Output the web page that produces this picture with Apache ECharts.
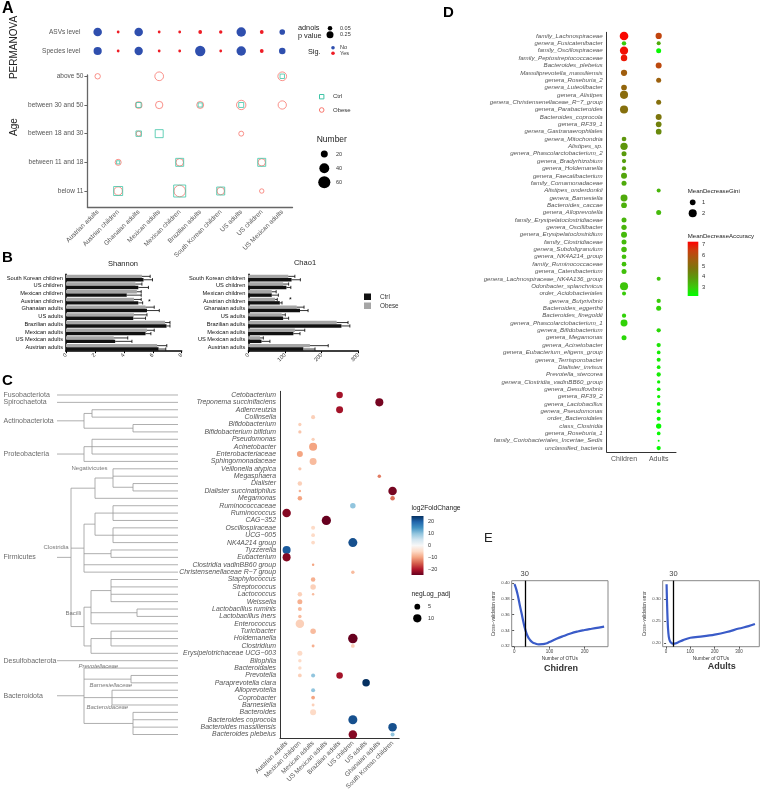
<!DOCTYPE html>
<html><head><meta charset="utf-8">
<script src="https://cdn.jsdelivr.net/npm/echarts@6/dist/echarts.min.js"></script>
<style>html,body{margin:0;padding:0;background:#fff}#c{width:760px;height:793px}</style>
</head><body><div id="c"></div><script>
const FONT = '"Liberation Sans", Arial, sans-serif';

// ---------- Panel A ----------
const A_COLUMNS = ['Austrian adults','Austrian children','Ghanaian adults','Mexican adults','Mexican children','Brazilian adults','South Korean children','US adults','US children','US Mexican adults'];
const A_LEVELS = ['ASVs level','Species level'];
const A_P_ASV = [0.45,0.001,0.45,0.001,0.001,0.02,0.01,0.6,0.02,0.12];
const A_P_SPECIES = [0.4,0.001,0.42,0.001,0.001,0.75,0.001,0.6,0.02,0.2];
const AGE_GROUPS = ['below 11','between 11 and 18','between 18 and 30','between 30 and 50','above 50'];
const AGE_OBESE = [
 ['Austrian adults','above 50',12],['Mexican adults','above 50',31],['US Mexican adults','above 50',31],
 ['Ghanaian adults','between 30 and 50',18],['Mexican adults','between 30 and 50',22],['Brazilian adults','between 30 and 50',20],['US adults','between 30 and 50',36],['US Mexican adults','between 30 and 50',28],
 ['Ghanaian adults','between 18 and 30',10],['US adults','between 18 and 30',10],
 ['Austrian children','between 11 and 18',15],['Mexican children','between 11 and 18',23],['US children','between 11 and 18',22],
 ['Austrian children','below 11',29],['Mexican children','below 11',54],['South Korean children','below 11',23],['US children','below 11',8]];
const AGE_CTRL = [
 ['US Mexican adults','above 50',8],['Ghanaian adults','between 30 and 50',10],['Brazilian adults','between 30 and 50',7],['US adults','between 30 and 50',10],
 ['Ghanaian adults','between 18 and 30',12],['Mexican adults','between 18 and 30',26],
 ['Austrian children','between 11 and 18',4],['Mexican children','between 11 and 18',26],['US children','between 11 and 18',26],
 ['Austrian children','below 11',33],['Mexican children','below 11',59],['South Korean children','below 11',26]];

// ---------- Panel B ----------
const B_GROUPS = ['South Korean children','US children','Mexican children','Austrian children','Ghanaian adults','US adults','Brazilian adults','Mexican adults','US Mexican adults','Austrian adults'];
const SHANNON_OBESE = [5.25,4.8,4.9,4.7,5.5,4.7,6.85,5.6,3.3,6.3];
const SHANNON_OBESE_SE = [0.57,0.45,0.3,0.5,0.6,0.9,0.34,0.5,0.97,0.67];
const SHANNON_CTRL = [5.36,5.0,4.2,5.0,5.6,4.65,6.95,5.5,3.4,6.4];
const SHANNON_CTRL_SE = [0.62,0.7,1.0,0.3,0.85,0.85,0.24,0.37,1.16,0.5];
const CHAO1_OBESE = [109,95,64,73,132,91,241,127,32,168];
const CHAO1_OBESE_SE = [18,15,12,6,20,10,31,27,9,50];
const CHAO1_CTRL = [118,104,64,86,141,95,254,123,36,150];
const CHAO1_CTRL_SE = [24,12,18,6,22,15,23,18,23,32];

// ---------- Panel C ----------
const C_GROUPS = ['Austrian adults','Mexican children','Mexican adults','US Mexican adults','Brazilian adults','US children','US adults','Ghanaian adults','South Korean children'];
const C_TAXA = ['Cetobacterium','Treponema succinifaciens','Adlercreutzia','Collinsella','Bifidobacterium','Bifidobacterium bifidum','Pseudomonas','Acinetobacter','Enterobacteriaceae','Sphingomonadaceae','Veillonella atypica','Megasphaera','Dialister','Dialister succinatiphilus','Megamonas','Ruminococcaceae','Ruminococcus','CAG−352','Oscillospiraceae','UCG−005','NK4A214 group','Tyzzerella','Eubacterium','Clostridia vadinBB60 group','Christensenellaceae R−7 group','Staphylococcus','Streptococcus','Lactococcus','Weissella','Lactobacillus ruminis','Lactobacillus iners','Enterococcus','Turicibacter','Holdemanella','Clostridium','Erysipelotrichaceae UCG−003','Bilophila','Bacteroidales','Prevotella','Paraprevotella clara','Alloprevotella','Coprobacter','Barnesiella','Bacteroides','Bacteroides coprocola','Bacteroides massiliensis','Bacteroides plebeius'];
// [taxon, group, log2FoldChange, negLog_padj]
const C_DOTS = [
 ['Cetobacterium','Brazilian adults',-21,6.3],['Treponema succinifaciens','Ghanaian adults',-24,9.5],['Adlercreutzia','Brazilian adults',-21,7.2],
 ['Collinsella','Mexican adults',-6,2.4],['Bifidobacterium','Mexican children',-6,1.6],['Bifidobacterium bifidum','Mexican children',-7,1.6],
 ['Pseudomonas','Mexican adults',-6,1.6],['Acinetobacter','Mexican adults',-10,9.5],['Enterobacteriaceae','Mexican children',-10,5.3],
 ['Sphingomonadaceae','Mexican adults',-8,7.2],['Veillonella atypica','Mexican children',-7,1.6],['Megasphaera','Ghanaian adults',-13,1.8],
 ['Dialister','Mexican children',-6,3],['Dialister succinatiphilus','Mexican children',-9,0.9],['Dialister succinatiphilus','South Korean children',-24,10.7],
 ['Megamonas','Mexican children',-10,3],['Megamonas','South Korean children',-14,3],['Ruminococcaceae','US children',10,4.5],
 ['Ruminococcus','Austrian adults',-23,10.7],['CAG−352','US Mexican adults',-25,12.8],['Oscillospiraceae','Mexican adults',-5,2.4],
 ['UCG−005','Mexican adults',-5,2.1],['NK4A214 group','Mexican adults',-5,2.1],['NK4A214 group','US children',22,12],
 ['Tyzzerella','Austrian adults',21,9.5],['Eubacterium','Austrian adults',-23,9.5],['Clostridia vadinBB60 group','Mexican adults',-10,0.9],
 ['Christensenellaceae R−7 group','US children',-8,1.8],['Staphylococcus','Mexican adults',-9,3],['Streptococcus','Mexican adults',-6,4.5],
 ['Lactococcus','Mexican children',-6,3],['Lactococcus','Mexican adults',-8,0.9],['Weissella','Mexican children',-9,3.7],
 ['Lactobacillus ruminis','Mexican children',-8,2.4],['Lactobacillus iners','Mexican children',-8,1.8],['Enterococcus','Mexican children',-6,10.7],
 ['Turicibacter','Mexican adults',-8,4.5],['Holdemanella','US children',-25,13.3],['Clostridium','Mexican adults',-9,1.3],['Clostridium','US children',-6,2.1],
 ['Erysipelotrichaceae UCG−003','Mexican children',-5,3.7],['Bilophila','Mexican children',-5,1.8],['Bacteroidales','Mexican children',-5,1.8],
 ['Prevotella','Mexican children',-6,2.1],['Prevotella','Mexican adults',10,2.4],['Prevotella','Brazilian adults',-21,6.3],
 ['Paraprevotella clara','US adults',25,8.3],['Alloprevotella','Mexican adults',10,2.4],['Coprobacter','Mexican adults',-10,2.1],
 ['Barnesiella','Mexican adults',-6,1.3],['Bacteroides','Mexican adults',-5,5.3],['Bacteroides coprocola','US children',22,12],
 ['Bacteroides massiliensis','South Korean children',22,10.7],['Bacteroides plebeius','US children',-23,10.7],['Bacteroides plebeius','South Korean children',10,2.4]];
// tree: leaves are row numbers (1 = first taxon), nodes {x: depth, c: children}
const TREE = [
 ['Fusobacteriota', 1],
 ['Spirochaetota', 2],
 ['Actinobacteriota', {x:84, c:[{x:92, c:[3,4]}, {x:133, c:[5,6]}]}],
 ['Proteobacteria', {x:84, c:[{x:92, c:[7,8,9]}, 10]}],
 ['Firmicutes', {x:71, c:[
   {x:95, c:[{x:113, c:[11,12,{x:133, c:[13,14]}]}, 15]},
   {x:84, c:[{x:95, c:[{x:113, c:[16,17,18]}, {x:113, c:[19,20,21]}]}, {x:111, c:[22,23]}, 24, 25]},
   {x:84, c:[{x:91, c:[{x:111, c:[26,27,28,29]}, {x:137, c:[30,31]}, 32]}, {x:91, c:[{x:111, c:[33,34,35]}, 36]}]}]}],
 ['Desulfobacterota', 37],
 ['Bacteroidota', {x:84, c:[38, {x:131, c:[39,40]}, {x:112, c:[41,42,43]}, {x:133, c:[44,45,46,47]}]}]];
const TREE_ROOT_X = 57, TREE_TIP_X = 178;
const CLASS_LABELS = [['Negativicutes',71,11.0],['Clostridia',43,21.7],['Bacilli',65,30.6]];
const FAMILY_LABELS = [['Prevotellaceae',78,37.7],['Barnesiellaceae',89,40.4],['Bacteroidaceae',86,43.3]];

// ---------- Panel D ----------
const D_TAXA = ['family_Lachnospiraceae','genera_Fusicatenibacter','family_Oscillospiraceae','family_Peptostreptococcaceae','Bacteroides_plebeius','Massiliprevotella_massiliensis','genera_Roseburia_2','genera_Luteolibacter','genera_Alistipes','genera_Christensenellaceae_R−7_group','genera_Parabacteroides','Bacteroides_coprocola','genera_RF39_1','genera_Gastranaerophilales','genera_Mitochondria','Alistipes_sp.','genera_Phascolarctobacterium_2','genera_Bradyrhizobium','genera_Holdemanella','genera_Faecalibacterium','family_Comamonadaceae','Alistipes_onderdonkii','genera_Barnesiella','Bacteroides_caccae','genera_Alloprevotella','family_Erysipelatoclostridiaceae','genera_Oscillibacter','genera_Erysipelatoclostridium','family_Clostridiaceae','genera_Subdoligranulum','genera_NK4A214_group','family_Ruminococcaceae','genera_Catenibacterium','genera_Lachnospiraceae_NK4A136_group','Odoribacter_splanchnicus','order_Acidobacteriales','genera_Butyrivibrio','Bacteroides_eggerthii','Bacteroides_finegoldii','genera_Phascolarctobacterium_1','genera_Bifidobacterium','genera_Megamonas','genera_Acinetobacter','genera_Eubacterium_eligens_group','genera_Terrisporobacter','Dialister_invisus','Prevotella_stercorea','genera_Clostridia_vadinBB60_group','genera_Desulfovibrio','genera_RF39_2','genera_Lactobacillus','genera_Pseudomonas','order_Bacteroidales','class_Clostridia','genera_Roseburia_1','family_Coriobacteriales_Incertae_Sedis','unclassified_bacteria'];
const D_GROUPS = ['Children','Adults'];
// [taxon, MeanDecreaseGini, MeanDecreaseAccuracy]
const D_CHILDREN = [
 ['family_Lachnospiraceae',2.3,7.2],['genera_Fusicatenibacter',0.6,3.0],['family_Oscillospiraceae',2.1,7.1],['family_Peptostreptococcaceae',1.3,7.0],
 ['Massiliprevotella_massiliensis',1.2,5.6],['genera_Luteolibacter',1.0,5.3],['genera_Alistipes',2.0,5.1],['genera_Parabacteroides',2.0,5.0],
 ['genera_Mitochondria',0.68,4.0],['Alistipes_sp.',1.65,4.0],['genera_Phascolarctobacterium_2',0.77,3.9],['genera_Bradyrhizobium',0.57,3.8],
 ['genera_Holdemanella',0.57,3.8],['genera_Faecalibacterium',1.1,3.7],['family_Comamonadaceae',0.77,3.6],['genera_Barnesiella',1.5,3.6],
 ['Bacteroides_caccae',1.0,3.5],['family_Erysipelatoclostridiaceae',0.77,3.4],['genera_Oscillibacter',0.87,3.4],['genera_Erysipelatoclostridium',1.1,3.3],
 ['family_Clostridiaceae',0.77,3.3],['genera_Subdoligranulum',0.93,3.3],['genera_NK4A214_group',0.68,3.2],['family_Ruminococcaceae',0.68,3.2],
 ['genera_Catenibacterium',0.77,3.2],['Odoribacter_splanchnicus',2.0,3.1],['order_Acidobacteriales',0.5,3.0],['Bacteroides_finegoldii',0.57,2.9],
 ['genera_Phascolarctobacterium_1',1.5,2.9],['genera_Megamonas',0.77,2.8]];
const D_ADULTS = [
 ['family_Lachnospiraceae',1.2,6.3],['genera_Fusicatenibacter',0.5,3.6],['family_Oscillospiraceae',0.77,2.3],['Bacteroides_plebeius',1.1,6.2],
 ['genera_Roseburia_2',0.77,5.5],['genera_Christensenellaceae_R−7_group',0.77,5.0],['Bacteroides_coprocola',1.1,4.8],['genera_RF39_1',1.0,4.5],
 ['genera_Gastranaerophilales',1.0,4.3],['Alistipes_onderdonkii',0.5,3.4],['genera_Alloprevotella',0.77,3.3],['genera_Lachnospiraceae_NK4A136_group',0.5,3.1],
 ['genera_Butyrivibrio',0.57,3.0],['Bacteroides_eggerthii',0.77,2.9],['genera_Bifidobacterium',0.57,2.8],['genera_Acinetobacter',0.57,2.6],
 ['genera_Eubacterium_eligens_group',0.42,2.5],['genera_Terrisporobacter',0.5,2.5],['Dialister_invisus',0.42,2.5],['Prevotella_stercorea',0.57,2.5],
 ['genera_Clostridia_vadinBB60_group',0.34,2.4],['genera_Desulfovibrio',0.42,2.4],['genera_RF39_2',0.34,2.4],['genera_Lactobacillus',0.42,2.4],
 ['genera_Pseudomonas',0.5,2.4],['order_Bacteroidales',0.5,2.3],['class_Clostridia',0.87,2.3],['genera_Roseburia_1',0.42,2.3],
 ['family_Coriobacteriales_Incertae_Sedis',0.12,2.3],['unclassified_bacteria',0.57,2.3]];

// ---------- Panel E ----------
const E_CHILD_OTUS = [1,6,11,16,21,26,31,38,45,52,60,70,80,90,100,120,140,160,180,200,220,240,255];
const E_CHILD_ERR = [0.3987,0.392,0.383,0.372,0.3617,0.351,0.342,0.333,0.328,0.325,0.3235,0.3225,0.3227,0.3235,0.3255,0.3295,0.333,0.3362,0.3387,0.3406,0.3422,0.3437,0.3448];
const E_ADULT_OTUS = [2,3,4.5,6,8,11,15,21,28,35,50,70,100,150,200,250,300,340,366];
const E_ADULT_ERR = [0.334,0.31,0.28,0.255,0.232,0.214,0.205,0.2,0.198,0.198,0.201,0.206,0.2115,0.2145,0.2185,0.2245,0.2325,0.238,0.2428];
const E_SELECTED = 30;

// ---------- styles ----------
const RED = '#ee1c25', BLUE = '#2f4fae', OBESE_COL = '#F8766D', CTRL_COL = '#3fc4a6';
const RDBU = ['#67001f','#b2182b','#d6604d','#f4a582','#fddbc7','#f7f7f7','#d1e5f0','#92c5de','#4393c3','#2166ac','#053061'];
const D_RAMP = ['#00ff00','#3cc80a','#5a9a0c','#7a760c','#a05e0e','#c8400e','#ff0000'];
const sizeA = p => 2.5 + 9 * Math.sqrt(p);
const sizeNum = n => 1.565 * Math.sqrt(n);
const sizeC = n => 2.6 * Math.sqrt(n);
const sizeD = g => 5.7 * Math.sqrt(g);
const BAR_W = 3.4;

// tree layout
const treeSegs = [], phylumLabels = [];
function layoutTree(node, parentX) {
  if (typeof node === 'number') { treeSegs.push([parentX, node, TREE_TIP_X, node]); return node; }
  const ys = node.c.map(ch => layoutTree(ch, node.x));
  const lo = Math.min(...ys), hi = Math.max(...ys), y = (lo + hi) / 2;
  treeSegs.push([node.x, lo, node.x, hi]);
  treeSegs.push([parentX, y, node.x, y]);
  return y;
}
TREE.forEach(([name, node]) => { const y = layoutTree(node, TREE_ROOT_X); phylumLabels.push([1, y, name]); });

function txt(x, y, text, o = {}) {
  return {type:'text', x, y, rotation:o.rot || 0, silent:true, z:100,
    style:{text, x:0, y:0, fill:o.color || '#333',
      font:(o.italic ? 'italic ' : '') + (o.bold ? 'bold ' : '') + (o.size || 7) + 'px ' + FONT,
      align:o.align || 'left', verticalAlign:o.va || 'middle', textAlign:o.align || 'left', textVerticalAlign:o.va || 'middle'}};
}
function dot(cx, cy, d, fill) { return {type:'circle', silent:true, shape:{cx, cy, r:d/2}, style:{fill}}; }

const axText = (size, color, extra = {}) => Object.assign({fontSize:size, color, fontFamily:FONT}, extra);

function errItem(params, api) {
  const v = api.value(0), c = api.value(1), e = api.value(2), s = api.value(3);
  const a = api.coord([v, c]), b = api.coord([v + e, c]);
  const y = a[1] + s * BAR_W / 2;
  return {type:'group', children:[
    {type:'line', shape:{x1:a[0], y1:y, x2:b[0], y2:y}, style:{stroke:'#000', lineWidth:0.8}},
    {type:'line', shape:{x1:b[0], y1:y - 1.6, x2:b[0], y2:y + 1.6}, style:{stroke:'#000', lineWidth:0.8}}]};
}
const errData = (vals, se, side) => vals.map((v, i) => [v, i, se[i], side]);

// gradients for colorbars
const gradStops = (cols, reverse) => { const c = reverse ? cols.slice().reverse() : cols; return c.map((color, i) => ({offset:i / (c.length - 1), color})); };

const graphics = [
  txt(2, 9, 'A', {bold:true, size:16, color:'#000'}),
  txt(2, 258, 'B', {bold:true, size:15, color:'#000'}),
  txt(2, 381, 'C', {bold:true, size:15, color:'#000'}),
  txt(443, 12.5, 'D', {bold:true, size:15, color:'#000'}),
  txt(484, 538, 'E', {size:13, color:'#222'}),
  txt(14, 47.5, 'PERMANOVA', {rot:Math.PI / 2, align:'center', size:10, color:'#222'}),
  txt(14, 127, 'Age', {rot:Math.PI / 2, align:'center', size:10, color:'#222'}),
  // A legends
  txt(298, 28.3, 'adnois', {size:7.3, color:'#222'}), txt(298, 35.5, 'p value', {size:7.3, color:'#222'}),
  dot(330, 28.3, sizeA(0.05), '#000'), dot(330, 34.7, sizeA(0.25), '#000'),
  txt(340, 28.3, '0.05', {size:5.5, color:'#333'}), txt(340, 34.7, '0.25', {size:5.5, color:'#333'}),
  txt(308, 51.5, 'Sig.', {size:7.3, color:'#222'}),
  dot(333, 47.7, 3.6, BLUE), dot(333, 53.3, 3.6, RED),
  txt(340, 47.7, 'No', {size:5.5, color:'#333'}), txt(340, 53.3, 'Yes', {size:5.5, color:'#333'}),
  {type:'rect', silent:true, shape:{x:319.5, y:94.5, width:4.4, height:4.4}, style:{fill:'none', stroke:CTRL_COL, lineWidth:1}},
  {type:'circle', silent:true, shape:{cx:321.7, cy:110, r:2.3}, style:{fill:'none', stroke:OBESE_COL, lineWidth:1}},
  txt(333, 96.7, 'Ctrl', {size:6, color:'#333'}), txt(333, 110, 'Obese', {size:6, color:'#333'}),
  txt(316.7, 139.3, 'Number', {size:8.5, color:'#222'}),
  dot(324.3, 154, sizeNum(20), '#000'), dot(324.3, 168.3, sizeNum(40), '#000'), dot(324.3, 182.3, sizeNum(60), '#000'),
  txt(336, 154, '20', {size:5.5, color:'#333'}), txt(336, 168.3, '40', {size:5.5, color:'#333'}), txt(336, 182.3, '60', {size:5.5, color:'#333'}),
  // B
  txt(123, 263.5, 'Shannon', {align:'center', size:7.5, color:'#222'}),
  txt(305, 262.5, 'Chao1', {align:'center', size:7.5, color:'#222'}),
  txt(148, 302, '*', {size:7, color:'#000'}), txt(289, 300.5, '*', {size:7, color:'#000'}),
  {type:'rect', silent:true, shape:{x:364, y:293.5, width:7, height:6.5}, style:{fill:'#111'}},
  {type:'rect', silent:true, shape:{x:364, y:302.5, width:7, height:6.5}, style:{fill:'#a6a6a6'}},
  txt(380, 296.8, 'Ctrl', {size:6.3, color:'#333'}), txt(380, 306, 'Obese', {size:6.3, color:'#333'}),
  // C legend
  txt(411.5, 508.5, 'log2FoldChange', {size:6.7, color:'#222'}),
  {type:'rect', silent:true, shape:{x:411.5, y:516, width:12, height:59},
    style:{fill:{type:'linear', x:0, y:0, x2:0, y2:1, colorStops:gradStops(RDBU, true)}}},
  txt(428, 521.9, '20', {size:5.5, color:'#333'}), txt(428, 533.7, '10', {size:5.5, color:'#333'}),
  txt(428, 545.5, '0', {size:5.5, color:'#333'}), txt(428, 557.3, '−10', {size:5.5, color:'#333'}),
  txt(428, 569.1, '−20', {size:5.5, color:'#333'}),
  txt(411.5, 594.3, 'negLog_padj', {size:6.7, color:'#222'}),
  dot(417.3, 606.7, sizeC(5), '#000'), dot(417.3, 618.3, sizeC(10), '#000'),
  txt(428, 606.7, '5', {size:5.5, color:'#333'}), txt(428, 618.3, '10', {size:5.5, color:'#333'}),
  // D legend
  txt(687.7, 191.7, 'MeanDecreaseGini', {size:6.1, color:'#222'}),
  dot(692.7, 202.3, sizeD(1), '#000'), dot(692.7, 213.3, sizeD(2), '#000'),
  txt(702, 202.3, '1', {size:5.8, color:'#333'}), txt(702, 213.3, '2', {size:5.8, color:'#333'}),
  txt(687.7, 236, 'MeanDecreaseAccuracy', {size:6.1, color:'#222'}),
  {type:'rect', silent:true, shape:{x:687.7, y:241.7, width:10.6, height:54.3},
    style:{fill:{type:'linear', x:0, y:0, x2:0, y2:1, colorStops:gradStops(D_RAMP, true)}}},
  ...[7,6,5,4,3].map(v => txt(702, 241.7 + (7.3 - v) / 5.1 * 54.3, String(v), {size:5.8, color:'#333'})),
  // E titles
  txt(561, 669, 'Chidren', {align:'center', bold:true, size:9, color:'#333'}),
  txt(721.7, 666.7, 'Adults', {align:'center', bold:true, size:9, color:'#333'})
];

const option = {
  animation:false,
  textStyle:{fontFamily:FONT},
  grid:[
    {left:87.4, top:22.5, width:205.1, height:38},
    {left:87.4, top:75, width:205.1, height:132},
    {left:66, top:274.2, width:115.7, height:77},
    {left:248.3, top:274.2, width:110, height:77},
    {left:0, top:391.3, width:178, height:346.9},
    {left:280, top:391.3, width:119.2, height:346.9},
    {left:606.7, top:32.3, width:69.3, height:419.5},
    {left:511.7, top:580.7, width:96.3, height:66, show:true, borderColor:'#888', borderWidth:1},
    {left:662.7, top:580.7, width:96.6, height:66, show:true, borderColor:'#888', borderWidth:1}
  ],
  xAxis:[
    {gridIndex:0, type:'category', data:A_COLUMNS, show:false},
    {gridIndex:1, type:'category', data:A_COLUMNS, axisLine:{lineStyle:{color:'#666', width:1.3}},
      axisTick:{alignWithLabel:true, length:3, lineStyle:{color:'#666'}}, axisLabel:axText(6.5, '#555', {rotate:45, margin:4, interval:0})},
    {gridIndex:2, type:'value', min:0, max:8, interval:2, splitLine:{show:false},
      axisLine:{show:true, lineStyle:{color:'#000', width:1.5}}, axisTick:{show:true, length:2, lineStyle:{color:'#000'}},
      axisLabel:axText(5.5, '#222', {rotate:45, margin:3})},
    {gridIndex:3, type:'value', min:0, max:300, interval:100, splitLine:{show:false},
      axisLine:{show:true, lineStyle:{color:'#000', width:1.5}}, axisTick:{show:true, length:2, lineStyle:{color:'#000'}},
      axisLabel:axText(5.5, '#222', {rotate:45, margin:3})},
    {gridIndex:4, type:'value', min:0, max:178, show:false},
    {gridIndex:5, type:'category', data:C_GROUPS, axisLine:{lineStyle:{color:'#333', width:1}},
      axisTick:{alignWithLabel:true, length:2, lineStyle:{color:'#333'}}, axisLabel:axText(6.5, '#555', {rotate:45, margin:4, interval:0})},
    {gridIndex:6, type:'category', data:D_GROUPS, axisLine:{lineStyle:{color:'#333', width:1}},
      axisTick:{alignWithLabel:true, length:2, lineStyle:{color:'#333'}}, axisLabel:axText(7, '#555', {margin:4})},
    {gridIndex:7, type:'value', min:-7, max:266, splitLine:{show:false}, axisLine:{show:false},
      axisTick:{show:true, customValues:[0,100,200], length:2, lineStyle:{color:'#555'}},
      axisLabel:axText(4.5, '#444', {customValues:[0,100,200], margin:3}),
      name:'Number of OTUs', nameLocation:'middle', nameGap:9, nameTextStyle:axText(4.8, '#333')},
    {gridIndex:8, type:'value', min:-14, max:384, splitLine:{show:false}, axisLine:{show:false},
      axisTick:{show:true, customValues:[0,100,200,300], length:2, lineStyle:{color:'#555'}},
      axisLabel:axText(4.5, '#444', {customValues:[0,100,200,300], margin:3}),
      name:'Number of OTUs', nameLocation:'middle', nameGap:9, nameTextStyle:axText(4.8, '#333')}
  ],
  yAxis:[
    {gridIndex:0, type:'category', data:A_LEVELS, inverse:true, axisLine:{show:false}, axisTick:{show:false},
      axisLabel:axText(6.5, '#555', {margin:7})},
    {gridIndex:1, type:'value', min:0.443, max:5.045, splitLine:{show:false},
      axisLine:{show:true, lineStyle:{color:'#666', width:1.3}},
      axisTick:{show:true, customValues:[1,2,3,4,5], length:3, lineStyle:{color:'#666'}},
      axisLabel:axText(6.5, '#555', {customValues:[1,2,3,4,5], margin:4, formatter:v => AGE_GROUPS[Math.round(v) - 1]})},
    {gridIndex:2, type:'category', data:B_GROUPS, inverse:true, axisLine:{lineStyle:{color:'#000', width:1.5}},
      axisTick:{alignWithLabel:true, length:2, lineStyle:{color:'#000'}}, axisLabel:axText(5.7, '#111', {margin:3, interval:0})},
    {gridIndex:3, type:'category', data:B_GROUPS, inverse:true, axisLine:{lineStyle:{color:'#000', width:1.5}},
      axisTick:{alignWithLabel:true, length:2, lineStyle:{color:'#000'}}, axisLabel:axText(5.7, '#111', {margin:3, interval:0})},
    {gridIndex:4, type:'value', min:0.5, max:47.5, inverse:true, show:false},
    {gridIndex:5, type:'category', data:C_TAXA, inverse:true, axisLine:{lineStyle:{color:'#333', width:1}},
      axisTick:{alignWithLabel:true, length:2, lineStyle:{color:'#333'}},
      axisLabel:axText(6.9, '#555', {fontStyle:'italic', margin:4, interval:0})},
    {gridIndex:6, type:'category', data:D_TAXA, inverse:true, axisLine:{lineStyle:{color:'#333', width:1}},
      axisTick:{alignWithLabel:true, length:2, lineStyle:{color:'#333'}},
      axisLabel:axText(6.2, '#555', {fontStyle:'italic', margin:4, interval:0})},
    {gridIndex:7, type:'value', min:0.3195, max:0.403, splitLine:{show:false}, axisLine:{show:false},
      axisTick:{show:true, customValues:[0.32,0.34,0.36,0.38,0.40], length:2, lineStyle:{color:'#555'}},
      axisLabel:axText(4.3, '#444', {customValues:[0.32,0.34,0.36,0.38,0.40], margin:2, formatter:v => v.toFixed(2)}),
      name:'Cross−validation error', nameLocation:'middle', nameGap:15, nameTextStyle:axText(4.6, '#333')},
    {gridIndex:8, type:'value', min:0.191, max:0.342, splitLine:{show:false}, axisLine:{show:false},
      axisTick:{show:true, customValues:[0.20,0.25,0.30], length:2, lineStyle:{color:'#555'}},
      axisLabel:axText(4.3, '#444', {customValues:[0.20,0.25,0.30], margin:2, formatter:v => v.toFixed(2)}),
      name:'Cross−validation error', nameLocation:'middle', nameGap:15, nameTextStyle:axText(4.6, '#333')}
  ],
  visualMap:[
    {type:'continuous', show:false, seriesIndex:13, dimension:2, min:-25, max:25, inRange:{color:RDBU}},
    {type:'continuous', show:false, seriesIndex:14, dimension:3, min:2.2, max:7.3, inRange:{color:D_RAMP}}
  ],
  series:[
    // 0 PERMANOVA
    {type:'scatter', xAxisIndex:0, yAxisIndex:0,
      data:[...A_COLUMNS.map((c, i) => [c, 'ASVs level', A_P_ASV[i]]), ...A_COLUMNS.map((c, i) => [c, 'Species level', A_P_SPECIES[i]])],
      symbolSize:v => sizeA(v[2]), itemStyle:{opacity:1, color:p => p.data[2] < 0.05 ? RED : BLUE}},
    // 1,2 Age
    {type:'scatter', xAxisIndex:1, yAxisIndex:1, symbol:'circle',
      data:AGE_OBESE.map(d => [d[0], AGE_GROUPS.indexOf(d[1]) + 1, d[2]]), symbolSize:v => sizeNum(v[2]),
      itemStyle:{color:'rgba(0,0,0,0)', borderColor:OBESE_COL, borderWidth:1}},
    {type:'scatter', xAxisIndex:1, yAxisIndex:1, symbol:'rect',
      data:AGE_CTRL.map(d => [d[0], AGE_GROUPS.indexOf(d[1]) + 1, d[2]]), symbolSize:v => sizeNum(v[2]),
      itemStyle:{color:'rgba(0,0,0,0)', borderColor:CTRL_COL, borderWidth:1}},
    // 3-5 Shannon
    {type:'bar', xAxisIndex:2, yAxisIndex:2, data:SHANNON_OBESE, barWidth:BAR_W, barGap:'0%', itemStyle:{color:'#a6a6a6'}},
    {type:'bar', xAxisIndex:2, yAxisIndex:2, data:SHANNON_CTRL, barWidth:BAR_W, barGap:'0%', itemStyle:{color:'#111'}},
    {type:'custom', xAxisIndex:2, yAxisIndex:2, renderItem:errItem, encode:{x:0, y:1},
      data:[...errData(SHANNON_OBESE, SHANNON_OBESE_SE, -1), ...errData(SHANNON_CTRL, SHANNON_CTRL_SE, 1)], z:5},
    // 6-8 Chao1
    {type:'bar', xAxisIndex:3, yAxisIndex:3, data:CHAO1_OBESE, barWidth:BAR_W, barGap:'0%', itemStyle:{color:'#a6a6a6'}},
    {type:'bar', xAxisIndex:3, yAxisIndex:3, data:CHAO1_CTRL, barWidth:BAR_W, barGap:'0%', itemStyle:{color:'#111'}},
    {type:'custom', xAxisIndex:3, yAxisIndex:3, renderItem:errItem, encode:{x:0, y:1},
      data:[...errData(CHAO1_OBESE, CHAO1_OBESE_SE, -1), ...errData(CHAO1_CTRL, CHAO1_CTRL_SE, 1)], z:5},
    // 9 tree
    {type:'custom', xAxisIndex:4, yAxisIndex:4, data:treeSegs, encode:{x:[0, 2], y:[1, 3]},
      renderItem:(params, api) => {
        const a = api.coord([api.value(0), api.value(1)]), b = api.coord([api.value(2), api.value(3)]);
        return {type:'line', shape:{x1:a[0], y1:a[1], x2:b[0], y2:b[1]}, style:{stroke:'#9a9a9a', lineWidth:0.8}};
      }},
    // 10-12 tree labels
    {type:'scatter', xAxisIndex:4, yAxisIndex:4, data:phylumLabels, symbolSize:1, itemStyle:{color:'rgba(0,0,0,0)'},
      label:{show:true, position:'right', distance:2, formatter:p => p.data[2], fontSize:7, color:'#444', fontFamily:FONT}},
    {type:'scatter', xAxisIndex:4, yAxisIndex:4, data:CLASS_LABELS.map(d => [d[1], d[2], d[0]]), symbolSize:1, itemStyle:{color:'rgba(0,0,0,0)'},
      label:{show:true, position:'right', distance:0, formatter:p => p.data[2], fontSize:6, color:'#555', fontFamily:FONT}},
    {type:'scatter', xAxisIndex:4, yAxisIndex:4, data:FAMILY_LABELS.map(d => [d[1], d[2], d[0]]), symbolSize:1, itemStyle:{color:'rgba(0,0,0,0)'},
      label:{show:true, position:'right', distance:0, formatter:p => p.data[2], fontSize:6, fontStyle:'italic', color:'#555', fontFamily:FONT}},
    // 13 C dots
    {type:'scatter', xAxisIndex:5, yAxisIndex:5, data:C_DOTS.map(d => [d[1], d[0], d[2], d[3]]),
      symbolSize:v => sizeC(v[3]), itemStyle:{opacity:1}},
    // 14 D dots
    {type:'scatter', xAxisIndex:6, yAxisIndex:6,
      data:[...D_CHILDREN.map(d => ['Children', d[0], d[1], d[2]]), ...D_ADULTS.map(d => ['Adults', d[0], d[1], d[2]])],
      symbolSize:v => sizeD(v[2]), itemStyle:{opacity:1}},
    // 15-16 E curves
    {type:'line', xAxisIndex:7, yAxisIndex:7, data:E_CHILD_OTUS.map((x, i) => [x, E_CHILD_ERR[i]]), smooth:true, showSymbol:false,
      lineStyle:{color:'#3a5bc8', width:2.2},
      markLine:{silent:true, symbol:['none', 'none'], data:[{xAxis:E_SELECTED}], lineStyle:{color:'#000', width:1.3, type:'solid'},
        label:{show:true, position:'end', formatter:String(E_SELECTED), fontSize:7.5, color:'#444', distance:3}}},
    {type:'line', xAxisIndex:8, yAxisIndex:8, data:E_ADULT_OTUS.map((x, i) => [x, E_ADULT_ERR[i]]), smooth:0.3, showSymbol:false,
      lineStyle:{color:'#3a5bc8', width:2.2},
      markLine:{silent:true, symbol:['none', 'none'], data:[{xAxis:E_SELECTED}], lineStyle:{color:'#000', width:1.3, type:'solid'},
        label:{show:true, position:'end', formatter:String(E_SELECTED), fontSize:7.5, color:'#444', distance:3}}}
  ],
  graphic:graphics
};
const chart = echarts.init(document.getElementById('c'), null, {renderer:'canvas', width:760, height:793});
chart.setOption(option);
</script></body></html>
